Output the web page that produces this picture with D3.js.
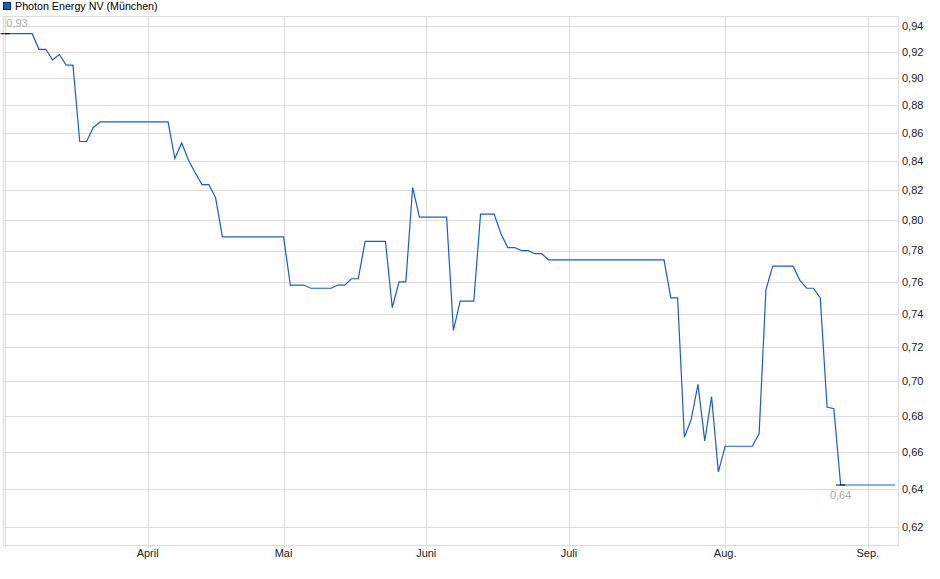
<!DOCTYPE html>
<meta charset="utf-8">
<title>Photon Energy NV (München)</title>
<style>
  body { margin: 0; background: #fff; }
  svg { display: block; font-family: "Liberation Sans", Arial, sans-serif; }
</style>
<script src="https://d3js.org/d3.v7.min.js"></script>
<div id="chart"></div>
<script>

var seriesName = "Photon Energy NV (München)";

// one value per trading day
var prices = [
  0.934, 0.934, 0.934, 0.934, 0.934, 0.922, 0.922, 0.914, 0.918, 0.910,
  0.910, 0.854, 0.854, 0.864, 0.868, 0.868, 0.868, 0.868, 0.868, 0.868,
  0.868, 0.868, 0.868, 0.868, 0.868, 0.842, 0.853, 0.841, 0.832, 0.824,
  0.824, 0.815, 0.789, 0.789, 0.789, 0.789, 0.789, 0.789, 0.789, 0.789,
  0.789, 0.789, 0.758, 0.758, 0.758, 0.756, 0.756, 0.756, 0.756, 0.758,
  0.758, 0.762, 0.762, 0.786, 0.786, 0.786, 0.786, 0.744, 0.760, 0.760,
  0.822, 0.802, 0.802, 0.802, 0.802, 0.802, 0.730, 0.748, 0.748, 0.748,
  0.804, 0.804, 0.804, 0.791, 0.782, 0.782, 0.780, 0.780, 0.778, 0.778,
  0.774, 0.774, 0.774, 0.774, 0.774, 0.774, 0.774, 0.774, 0.774, 0.774,
  0.774, 0.774, 0.774, 0.774, 0.774, 0.774, 0.774, 0.774, 0.750, 0.750,
  0.668, 0.678, 0.698, 0.666, 0.691, 0.649, 0.663, 0.663, 0.663, 0.663,
  0.663, 0.670, 0.755, 0.770, 0.770, 0.770, 0.770, 0.761, 0.756, 0.756,
  0.750, 0.685, 0.684, 0.642, 0.642, 0.642, 0.642, 0.642, 0.642, 0.642,
  0.642, 0.642
];

// first trading day of each month (index into prices)
var monthIdx = [21, 41, 62, 83, 106, 127];
var monthLabels = ["April", "Mai", "Juni", "Juli", "Aug.", "Sep."];

var yTicks = [0.62, 0.64, 0.66, 0.68, 0.70, 0.72, 0.74, 0.76, 0.78,
              0.80, 0.82, 0.84, 0.86, 0.88, 0.90, 0.92, 0.94];

var width = 940, height = 579;
var plot = {left: 3, right: 898, top: 16, bottom: 545};

var de = d3.formatLocale({decimal: ",", thousands: ".", grouping: [3], currency: ["", " €"]});
var fmt = de.format(".2f");

var svg = d3.select("#chart")
  .append("svg")
    .attr("width", width)
    .attr("height", height);

var x = d3.scaleLinear()
  .domain([0, prices.length - 1])
  .range([5, 895]);

var y = d3.scaleLog()
  .domain([0.62, 0.94])
  .range([527, 26]);

// grid
svg.append("g")
  .selectAll("line")
  .data(yTicks)
  .enter().append("line")
    .attr("x1", plot.left).attr("x2", plot.right)
    .attr("y1", function(d) { return Math.round(y(d)) + 0.5; })
    .attr("y2", function(d) { return Math.round(y(d)) + 0.5; })
    .attr("stroke", "#dcdcdc");

svg.append("g")
  .selectAll("line")
  .data([0].concat(monthIdx))
  .enter().append("line")
    .attr("x1", function(d) { return Math.round(x(d)) + 0.5; })
    .attr("x2", function(d) { return Math.round(x(d)) + 0.5; })
    .attr("y1", plot.top).attr("y2", plot.bottom + 3)
    .attr("stroke", "#dcdcdc");

// frame
svg.append("rect")
  .attr("x", plot.left + 0.5).attr("y", plot.top + 0.5)
  .attr("width", plot.right - plot.left).attr("height", plot.bottom - plot.top)
  .attr("fill", "none")
  .attr("stroke", "#dcdcdc");

// y labels (right)
svg.append("g")
  .selectAll("text")
  .data(yTicks)
  .enter().append("text")
    .attr("x", 902)
    .attr("y", function(d) { return y(d); })
    .attr("dy", "0.35em")
    .attr("font-size", 11)
    .attr("fill", "#222")
    .text(function(d) { return fmt(d); });

// month labels
svg.append("g")
  .selectAll("text")
  .data(monthIdx)
  .enter().append("text")
    .attr("x", function(d) { return x(d); })
    .attr("y", 557)
    .attr("text-anchor", "middle")
    .attr("font-size", 11)
    .attr("fill", "#222")
    .text(function(d, i) { return monthLabels[i]; });

// price line
var line = d3.line()
  .x(function(d, i) { return x(i); })
  .y(function(d) { return y(d); });

svg.append("path")
  .datum(prices)
  .attr("d", line)
  .attr("fill", "none")
  .attr("stroke", "#1b5cc8")
  .attr("stroke-width", 1.2);

// high / low markers
var hi = d3.maxIndex(prices), lo = d3.minIndex(prices);

[hi, lo].forEach(function(k) {
  svg.append("line")
    .attr("x1", x(k) - 4.5).attr("x2", x(k) + 4.5)
    .attr("y1", y(prices[k])).attr("y2", y(prices[k]))
    .attr("stroke", "#000");
});

svg.append("text")
  .attr("x", Math.max(x(hi), 17))
  .attr("y", y(prices[hi]) - 8)
  .attr("dy", "0.1em")
  .attr("text-anchor", "middle")
  .attr("font-size", 11)
  .attr("fill", "#aaa")
  .text(fmt(prices[hi]));

svg.append("text")
  .attr("x", x(lo))
  .attr("y", y(prices[lo]) + 10)
  .attr("dy", "0.35em")
  .attr("text-anchor", "middle")
  .attr("font-size", 11)
  .attr("fill", "#b0a89c")
  .text(fmt(prices[lo]));

// legend
svg.append("rect")
  .attr("x", 3.5).attr("y", 2.5)
  .attr("width", 7).attr("height", 7)
  .attr("fill", "#1b5cc8")
  .attr("stroke", "#0a2a66");

svg.append("text")
  .attr("x", 15)
  .attr("y", 6)
  .attr("dy", "0.35em")
  .attr("font-size", 10.7)
  .attr("fill", "#000")
  .text(seriesName);

</script>
